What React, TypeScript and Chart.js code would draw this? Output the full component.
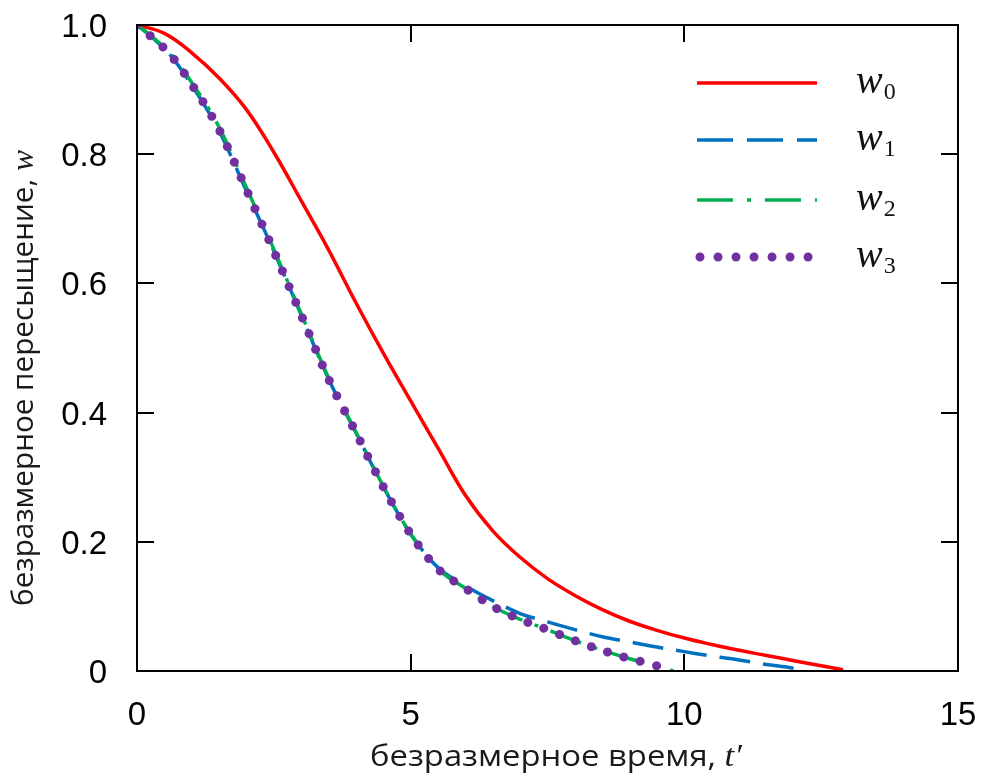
import React, { useEffect, useRef } from "react";
import { Chart, registerables } from "chart.js";

Chart.register(...registerables);

// ---- data ----
const t0 = [0, 0.5, 1, 1.5, 2, 2.5, 3, 3.5, 4, 4.5, 5, 5.5, 6, 6.5, 7, 7.5, 8, 8.5, 9, 9.5, 10, 10.5, 11, 11.5, 12, 12.5, 12.9];
const w0 = [1.0, 0.987, 0.957, 0.918, 0.869, 0.803, 0.728, 0.652, 0.57, 0.492, 0.418, 0.345, 0.272, 0.217, 0.176, 0.143, 0.117, 0.095, 0.077, 0.063, 0.051, 0.041, 0.032, 0.024, 0.016, 0.008, 0.002];

const t1 = [0, 0.3, 0.6, 1, 1.5, 2, 2.5, 3, 3.5, 4, 4.5, 5, 5.5, 6, 6.5, 7, 7.5, 8, 8.5, 9, 9.5, 10, 10.5, 11, 11.5, 12, 12.15];
const w1 = [1.0, 0.979, 0.954, 0.907, 0.836, 0.743, 0.65, 0.551, 0.452, 0.369, 0.285, 0.212, 0.16, 0.132, 0.109, 0.089, 0.076, 0.064, 0.053, 0.045, 0.037, 0.03, 0.023, 0.017, 0.01, 0.004, 0.0];

const t2 = [0, 0.3, 0.6, 1, 1.5, 2, 2.5, 3, 3.5, 4, 4.5, 5, 5.5, 6, 6.5, 7, 7.5, 8, 8.5, 9, 9.5, 9.8];
const w2 = [1.0, 0.98, 0.957, 0.911, 0.842, 0.748, 0.653, 0.553, 0.454, 0.37, 0.286, 0.212, 0.158, 0.128, 0.1, 0.08, 0.064, 0.047, 0.032, 0.019, 0.008, 0.0];

const t3 = [0, 0.3, 0.6, 1, 1.5, 2, 2.5, 3, 3.5, 4, 4.5, 5, 5.5, 6, 6.5, 7, 7.5, 8, 8.5, 9, 9.5, 9.7];
const w3 = [1.0, 0.979, 0.955, 0.908, 0.838, 0.745, 0.65, 0.551, 0.452, 0.369, 0.285, 0.212, 0.158, 0.128, 0.1, 0.08, 0.064, 0.047, 0.032, 0.019, 0.008, 0.0];

const seriesNames = ["0", "1", "2", "3"];
const xTicks = [0, 5, 10, 15];
const yTicks = [0, 0.2, 0.4, 0.6, 0.8, 1.0];
const xTitle = "безразмерное время, ";
const xTitleVar = "t′";
const yTitle = "безразмерное пересыщение, ";
const yTitleVar = "w";

const toPts = (xs: number[], ys: number[]) => xs.map((x, i) => ({ x, y: ys[i] }));

const SANS = '"Open Sans", "DejaVu Sans", sans-serif';
const SERIF_IT = 'italic 32px "Liberation Serif", "DejaVu Serif", serif';
const TICK_FONT = '33px "Liberation Sans", Arial, sans-serif';

// draw a two-part title (sans + italic var), fitted to a target length
function drawTitle(ctx: CanvasRenderingContext2D, a: string, b: string, x0: number, len: number, base: number) {
  ctx.font = `30px ${SANS}`;
  const wa = ctx.measureText(a).width;
  ctx.font = SERIF_IT;
  const wb = ctx.measureText(b).width;
  const k = len / (wa + wb);
  ctx.save();
  ctx.translate(x0, base);
  ctx.scale(k, 1);
  ctx.font = `30px ${SANS}`;
  ctx.fillText(a, 0, 0);
  ctx.font = SERIF_IT;
  ctx.fillText(b, wa, 0);
  ctx.restore();
}

const decorPlugin = {
  id: "decor",
  afterDraw(chart: any) {
    const { ctx, chartArea } = chart;
    const xs = chart.scales.x;
    const ys = chart.scales.y;
    const { left, right, top, bottom } = chartArea;
    ctx.save();
    // frame
    ctx.strokeStyle = "#000";
    ctx.lineWidth = 2;
    ctx.strokeRect(left, top, right - left, bottom - top);
    // inner ticks
    const tl = 17;
    ctx.beginPath();
    xTicks.forEach((v) => {
      if (v === xTicks[0] || v === xTicks[xTicks.length - 1]) return;
      const px = Math.round(xs.getPixelForValue(v));
      ctx.moveTo(px, bottom);
      ctx.lineTo(px, bottom - tl);
      ctx.moveTo(px, top);
      ctx.lineTo(px, top + tl);
    });
    yTicks.forEach((v) => {
      if (v === yTicks[0] || v === yTicks[yTicks.length - 1]) return;
      const py = Math.round(ys.getPixelForValue(v));
      ctx.moveTo(left, py);
      ctx.lineTo(left + tl, py);
      ctx.moveTo(right, py);
      ctx.lineTo(right - tl, py);
    });
    ctx.stroke();

    // tick labels
    ctx.fillStyle = "#000";
    ctx.font = TICK_FONT;
    ctx.textBaseline = "alphabetic";
    ctx.textAlign = "center";
    xTicks.forEach((v) => {
      ctx.fillText(String(v), xs.getPixelForValue(v), bottom + 54);
    });
    ctx.textAlign = "right";
    yTicks.forEach((v) => {
      const lab = v === 0 ? "0" : v.toFixed(1);
      ctx.fillText(lab, left - 30, ys.getPixelForValue(v) + 12);
    });
    ctx.textAlign = "left";

    // x title
    ctx.fillStyle = "#1a1a1a";
    drawTitle(ctx, xTitle, xTitleVar, 370, 372, 766);

    // y title
    ctx.save();
    ctx.translate(33, 606);
    ctx.rotate(-Math.PI / 2);
    drawTitle(ctx, yTitle, yTitleVar, 0, 456, 0);
    ctx.restore();

    // legend
    const rows = [83, 140, 200, 257];
    chart.data.datasets.forEach((ds: any, i: number) => {
      const y = rows[i];
      ctx.save();
      ctx.strokeStyle = ds.borderColor;
      ctx.lineWidth = ds.borderWidth;
      ctx.lineCap = ds.borderCapStyle || "butt";
      ctx.setLineDash(ds.legendDash || ds.borderDash || []);
      ctx.beginPath();
      ctx.moveTo(ds.legendStart ?? 697, y);
      ctx.lineTo(817, y);
      ctx.stroke();
      ctx.restore();
      ctx.fillStyle = "#111";
      ctx.font = 'italic 40px "Liberation Serif", "DejaVu Serif", serif';
      ctx.fillText("w", 856, y + 10);
      const ww = ctx.measureText("w").width;
      ctx.font = '24px "Liberation Serif", "DejaVu Serif", serif';
      ctx.fillText(seriesNames[i], 856 + ww + 1, y + 16);
    });
    ctx.restore();
  },
};

export default function App() {
  const ref = useRef<HTMLCanvasElement | null>(null);
  useEffect(() => {
    if (!ref.current) return;
    const chart = new Chart(ref.current, {
      type: "line",
      data: {
        datasets: [
          {
            label: "w0",
            data: toPts(t0, w0),
            borderColor: "#ff0000",
            borderWidth: 3.5,
            pointRadius: 0,
            tension: 0.4,
            order: 3,
          },
          {
            label: "w1",
            data: toPts(t1, w1),
            borderColor: "#0070c0",
            borderWidth: 3.5,
            borderDash: [31, 13],
            legendDash: [36, 14],
            pointRadius: 0,
            cubicInterpolationMode: "monotone",
            order: 2,
          },
          {
            label: "w2",
            data: toPts(t2, w2),
            borderColor: "#00b050",
            borderWidth: 3.5,
            borderDash: [33, 13, 4, 13],
            legendDash: [36, 14, 4, 14],
            pointRadius: 0,
            cubicInterpolationMode: "monotone",
            order: 1,
          },
          {
            label: "w3",
            data: toPts(t3, w3),
            borderColor: "#7030a0",
            borderWidth: 9,
            borderDash: [0.01, 17],
            legendDash: [0.01, 18],
            legendStart: 700,
            borderCapStyle: "round",
            pointRadius: 0,
            cubicInterpolationMode: "monotone",
            order: 0,
          },
        ] as any,
      },
      options: {
        responsive: false,
        animation: false,
        layout: { padding: { left: 0, right: 29, top: 25, bottom: 0 } },
        plugins: { legend: { display: false }, tooltip: { enabled: false } },
        scales: {
          x: {
            type: "linear",
            min: 0,
            max: 15,
            afterFit: (s: any) => {
              s.height = 112;
            },
            afterBuildTicks: (s: any) => {
              s.ticks = xTicks.map((v) => ({ value: v }));
            },
            grid: { display: false, drawTicks: false },
            border: { display: false },
            ticks: { display: false },
          },
          y: {
            type: "linear",
            min: 0,
            max: 1,
            afterFit: (s: any) => {
              s.width = 137;
            },
            afterBuildTicks: (s: any) => {
              s.ticks = yTicks.map((v) => ({ value: v }));
            },
            grid: { display: false, drawTicks: false },
            border: { display: false },
            ticks: { display: false },
          },
        },
      },
      plugins: [decorPlugin],
    });
    return () => chart.destroy();
  }, []);
  return (
    <div style={{ position: "absolute", left: 0, top: 0, width: 987, height: 783, background: "#fff" }}>
      <canvas ref={ref} width={987} height={783} style={{ display: "block" }} />
    </div>
  );
}
